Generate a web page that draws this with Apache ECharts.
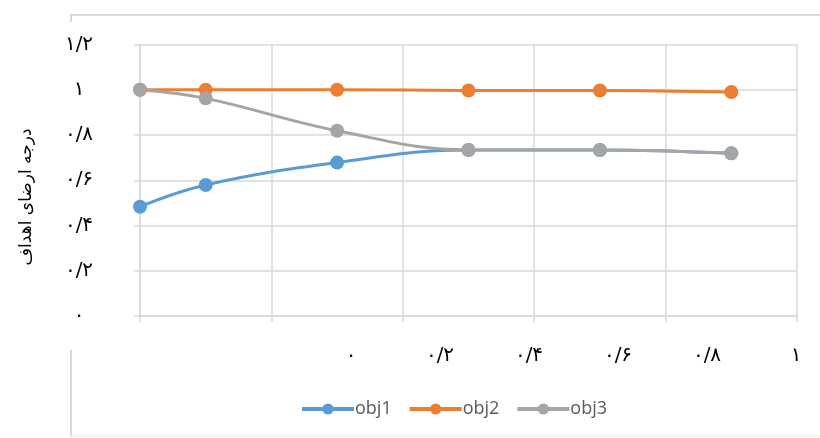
<!DOCTYPE html>
<html>
<head>
<meta charset="utf-8">
<script src="https://cdn.jsdelivr.net/npm/echarts@6/dist/echarts.min.js"></script>
<style>
html,body{margin:0;padding:0;background:#fff;}
#chart{width:820px;height:438px;}
</style>
</head>
<body>
<div id="chart"></div>
<script>
// ---- data ----
const xValues = [0, 0.1, 0.3, 0.5, 0.7, 0.9];
const obj1 = [0.483, 0.579, 0.678, 0.734, 0.734, 0.719];
const obj2 = [1.0, 1.0, 1.0, 0.997, 0.997, 0.99];
const obj3 = [1.0, 0.962, 0.819, 0.734, 0.734, 0.719];
const seriesNames = ['obj1', 'obj2', 'obj3'];
const yTickLabels = ['۰', '۰/۲', '۰/۴', '۰/۶', '۰/۸', '۱', '۱/۲'];
const xTickLabels = ['۰', '۰/۲', '۰/۴', '۰/۶', '۰/۸', '۱'];
const yTitle = 'درجه ارضای اهداف';

const colors = ['#5B9BD5', '#ED7D31', '#A5A5A5'];
const pairs = arr => xValues.map((x, i) => [x, arr[i]]);
const idx = v => Math.round(v / 0.2);
const faFont = "'DejaVu Sans', sans-serif";

const chart = echarts.init(document.getElementById('chart'));
chart.setOption({
  animation: false,
  color: colors,
  grid: [
    {left: 140, right: 23, top: 44.5, bottom: 122},
    {left: 351, right: 24, top: 340, height: 1}
  ],
  xAxis: [
    {gridIndex: 0, type: 'value', min: 0, max: 1, interval: 0.2,
     axisLine: {show: true, lineStyle: {color: '#d9d9d9', width: 1.5}},
     axisTick: {show: true, length: 6, lineStyle: {color: '#d9d9d9', width: 1.5}},
     axisLabel: {show: false},
     splitLine: {show: true, lineStyle: {color: '#d9d9d9', width: 1.5}}},
    {gridIndex: 1, type: 'value', min: 0, max: 1, interval: 0.2,
     axisLine: {show: false}, axisTick: {show: false}, splitLine: {show: false},
     axisLabel: {show: true, margin: 5, fontSize: 20, color: '#000', fontFamily: faFont,
       formatter: v => xTickLabels[idx(v)]}}
  ],
  yAxis: [
    {gridIndex: 0, type: 'value', min: 0, max: 1.2, interval: 0.2,
     axisLine: {show: true, lineStyle: {color: '#d9d9d9', width: 1.5}},
     axisTick: {show: true, length: 6, lineStyle: {color: '#d9d9d9', width: 1.5}},
     splitLine: {show: true, lineStyle: {color: '#d9d9d9', width: 1.5}},
     axisLabel: {show: true, align: 'center', margin: 61, fontSize: 20, color: '#000', fontFamily: faFont,
       formatter: v => yTickLabels[idx(v)]}},
    {gridIndex: 1, type: 'value', show: false}
  ],
  legend: {
    data: seriesNames, left: 295, top: 395,
    itemWidth: 52, itemHeight: 14, itemGap: 16,
    lineStyle: {width: 4},
    textStyle: {fontSize: 18, color: '#595959', fontFamily: "'Open Sans', sans-serif", padding: [0, 0, 0, -4]}
  },
  series: [obj1, obj2, obj3].map((d, i) => ({
    name: seriesNames[i], type: 'line', xAxisIndex: 0, yAxisIndex: 0,
    data: pairs(d), smooth: 0.4,
    symbol: 'circle', symbolSize: 14,
    lineStyle: {width: 3, color: colors[i]},
    itemStyle: {color: colors[i]}
  })),
  graphic: [
    {type: 'text', x: 27, y: 197, rotation: Math.PI / 2,
     style: {text: yTitle, fill: '#000', font: "17px 'DejaVu Sans', sans-serif",
       align: 'center', verticalAlign: 'middle'}},
    {type: 'line', shape: {x1: 70, y1: 15, x2: 820, y2: 15}, style: {stroke: '#d9d9d9', lineWidth: 2}},
    {type: 'line', shape: {x1: 71, y1: 15, x2: 71, y2: 22}, style: {stroke: '#d9d9d9', lineWidth: 2}},
    {type: 'line', shape: {x1: 71, y1: 350, x2: 71, y2: 437}, style: {stroke: '#d9d9d9', lineWidth: 2}},
    {type: 'line', shape: {x1: 71, y1: 436, x2: 820, y2: 436}, style: {stroke: '#f0f0f0', lineWidth: 1.5}}
  ]
});
</script>
</body>
</html>
